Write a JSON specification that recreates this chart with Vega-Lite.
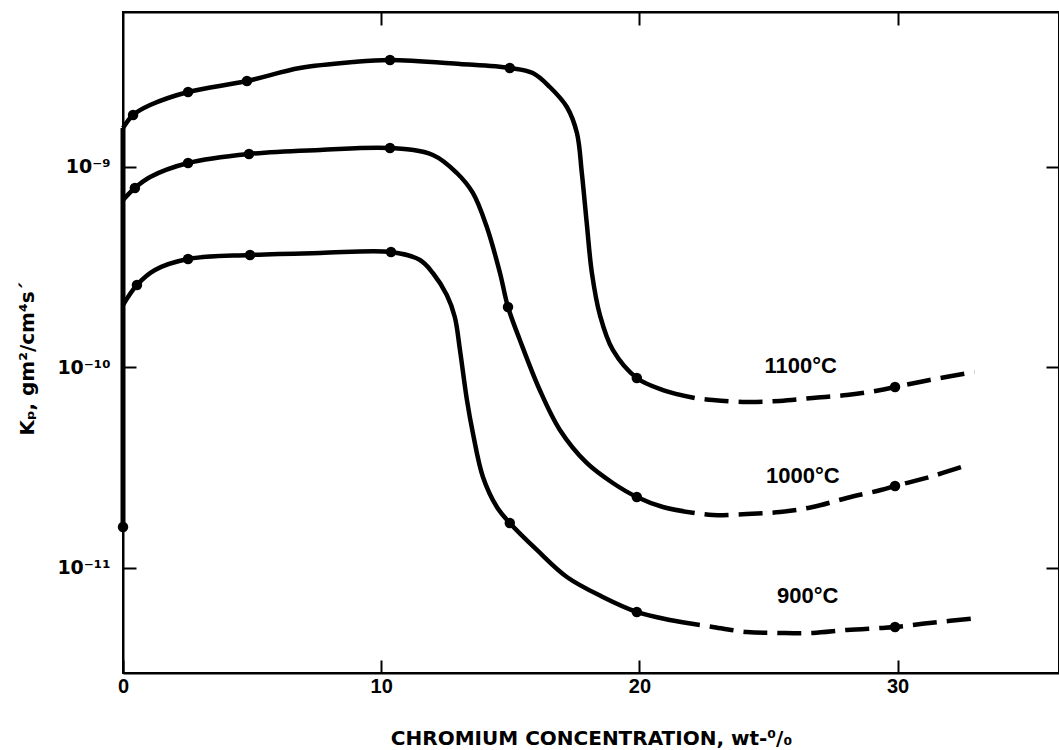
{
  "$schema": "https://vega.github.io/schema/vega-lite/v6.json",
  "width": 936,
  "height": 661,
  "autosize": {"type": "none"},
  "padding": {"left": 123, "top": 12, "right": 0, "bottom": 77},
  "background": "white",
  "config": {
    "view": {"stroke": "black", "strokeWidth": 2},
    "font": "Liberation Sans",
    "axis": {
      "grid": false,
      "domainColor": "black",
      "domainWidth": 2,
      "tickColor": "black",
      "tickWidth": 2,
      "labelColor": "black",
      "titleColor": "black",
      "labelFont": "Liberation Sans",
      "labelFontWeight": "bold",
      "labelFontSize": 20,
      "titleFont": "DejaVu Sans",
      "titleFontWeight": "bold"
    }
  },
  "datasets": {
    "curves": [
      {"T": "1100", "s": "solid", "x": 0, "k": 1.565e-9, "m": 0},
      {"T": "1100", "s": "solid", "x": 0.39, "k": 1.817e-9, "m": 1},
      {"T": "1100", "s": "solid", "x": 1.05, "k": 2.037e-9, "m": 0},
      {"T": "1100", "s": "solid", "x": 2.52, "k": 2.366e-9, "m": 1},
      {"T": "1100", "s": "solid", "x": 4.8, "k": 2.685e-9, "m": 1},
      {"T": "1100", "s": "solid", "x": 6.85, "k": 3.117e-9, "m": 0},
      {"T": "1100", "s": "solid", "x": 8.9, "k": 3.34e-9, "m": 0},
      {"T": "1100", "s": "solid", "x": 10.34, "k": 3.418e-9, "m": 1},
      {"T": "1100", "s": "solid", "x": 13.05, "k": 3.264e-9, "m": 0},
      {"T": "1100", "s": "solid", "x": 14.98, "k": 3.117e-9, "m": 1},
      {"T": "1100", "s": "solid", "x": 15.87, "k": 2.943e-9, "m": 0},
      {"T": "1100", "s": "solid", "x": 16.53, "k": 2.506e-9, "m": 0},
      {"T": "1100", "s": "solid", "x": 17.19, "k": 1.992e-9, "m": 0},
      {"T": "1100", "s": "solid", "x": 17.58, "k": 1.478e-9, "m": 0},
      {"T": "1100", "s": "solid", "x": 17.77, "k": 9.33e-10, "m": 0},
      {"T": "1100", "s": "solid", "x": 17.96, "k": 5.256e-10, "m": 0},
      {"T": "1100", "s": "solid", "x": 18.16, "k": 2.96e-10, "m": 0},
      {"T": "1100", "s": "solid", "x": 18.47, "k": 1.827e-10, "m": 0},
      {"T": "1100", "s": "solid", "x": 18.97, "k": 1.223e-10, "m": 0},
      {"T": "1100", "s": "solid", "x": 19.9, "k": 8.86e-11, "m": 1},
      {"T": "1100", "s": "solid", "x": 20.91, "k": 7.72e-11, "m": 0},
      {"T": "1100", "s": "solid", "x": 22.14, "k": 7.05e-11, "m": 0},
      {"T": "1100", "s": "dashed", "x": 22.14, "k": 7.05e-11, "m": 0},
      {"T": "1100", "s": "dashed", "x": 22.84, "k": 6.885e-11, "m": 0},
      {"T": "1100", "s": "dashed", "x": 24.16, "k": 6.73e-11, "m": 0},
      {"T": "1100", "s": "dashed", "x": 25.44, "k": 6.81e-11, "m": 0},
      {"T": "1100", "s": "dashed", "x": 26.71, "k": 7.05e-11, "m": 0},
      {"T": "1100", "s": "dashed", "x": 28.03, "k": 7.29e-11, "m": 0},
      {"T": "1100", "s": "dashed", "x": 29.35, "k": 7.72e-11, "m": 0},
      {"T": "1100", "s": "dashed", "x": 29.9, "k": 7.99e-11, "m": 1},
      {"T": "1100", "s": "dashed", "x": 31.24, "k": 8.66e-11, "m": 0},
      {"T": "1100", "s": "dashed", "x": 32.98, "k": 9.5e-11, "m": 0},

      {"T": "1000", "s": "solid", "x": 0, "k": 6.846e-10, "m": 0},
      {"T": "1000", "s": "solid", "x": 0.46, "k": 7.86e-10, "m": 1},
      {"T": "1000", "s": "solid", "x": 1.05, "k": 8.916e-10, "m": 0},
      {"T": "1000", "s": "solid", "x": 2.52, "k": 1.047e-9, "m": 1},
      {"T": "1000", "s": "solid", "x": 4.88, "k": 1.161e-9, "m": 1},
      {"T": "1000", "s": "solid", "x": 7.63, "k": 1.216e-9, "m": 0},
      {"T": "1000", "s": "solid", "x": 10.34, "k": 1.244e-9, "m": 1},
      {"T": "1000", "s": "solid", "x": 12.0, "k": 1.148e-9, "m": 0},
      {"T": "1000", "s": "solid", "x": 12.93, "k": 9.334e-10, "m": 0},
      {"T": "1000", "s": "solid", "x": 13.55, "k": 7.42e-10, "m": 0},
      {"T": "1000", "s": "solid", "x": 14.09, "k": 5.02e-10, "m": 0},
      {"T": "1000", "s": "solid", "x": 14.6, "k": 2.96e-10, "m": 0},
      {"T": "1000", "s": "solid", "x": 14.91, "k": 2.003e-10, "m": 1},
      {"T": "1000", "s": "solid", "x": 15.37, "k": 1.372e-10, "m": 0},
      {"T": "1000", "s": "solid", "x": 16.14, "k": 7.72e-11, "m": 0},
      {"T": "1000", "s": "solid", "x": 16.92, "k": 4.88e-11, "m": 0},
      {"T": "1000", "s": "solid", "x": 17.96, "k": 3.34e-11, "m": 0},
      {"T": "1000", "s": "solid", "x": 18.97, "k": 2.654e-11, "m": 0},
      {"T": "1000", "s": "solid", "x": 19.9, "k": 2.26e-11, "m": 1},
      {"T": "1000", "s": "solid", "x": 20.91, "k": 2.014e-11, "m": 0},
      {"T": "1000", "s": "solid", "x": 22.14, "k": 1.88e-11, "m": 0},
      {"T": "1000", "s": "dashed", "x": 22.14, "k": 1.88e-11, "m": 0},
      {"T": "1000", "s": "dashed", "x": 22.84, "k": 1.837e-11, "m": 0},
      {"T": "1000", "s": "dashed", "x": 24.16, "k": 1.858e-11, "m": 0},
      {"T": "1000", "s": "dashed", "x": 25.44, "k": 1.902e-11, "m": 0},
      {"T": "1000", "s": "dashed", "x": 26.71, "k": 2.014e-11, "m": 0},
      {"T": "1000", "s": "dashed", "x": 28.03, "k": 2.234e-11, "m": 0},
      {"T": "1000", "s": "dashed", "x": 29.35, "k": 2.449e-11, "m": 0},
      {"T": "1000", "s": "dashed", "x": 29.9, "k": 2.564e-11, "m": 1},
      {"T": "1000", "s": "dashed", "x": 31.24, "k": 2.844e-11, "m": 0},
      {"T": "1000", "s": "dashed", "x": 32.71, "k": 3.264e-11, "m": 0},

      {"T": "900", "s": "solid", "x": 0, "k": 2.05e-10, "m": 0},
      {"T": "900", "s": "solid", "x": 0.54, "k": 2.579e-10, "m": 1},
      {"T": "900", "s": "solid", "x": 1.24, "k": 3.064e-10, "m": 0},
      {"T": "900", "s": "solid", "x": 2.52, "k": 3.476e-10, "m": 1},
      {"T": "900", "s": "solid", "x": 4.92, "k": 3.64e-10, "m": 1},
      {"T": "900", "s": "solid", "x": 7.63, "k": 3.724e-10, "m": 0},
      {"T": "900", "s": "solid", "x": 10.38, "k": 3.768e-10, "m": 1},
      {"T": "900", "s": "solid", "x": 11.5, "k": 3.437e-10, "m": 0},
      {"T": "900", "s": "solid", "x": 12.0, "k": 2.96e-10, "m": 0},
      {"T": "900", "s": "solid", "x": 12.54, "k": 2.299e-10, "m": 0},
      {"T": "900", "s": "solid", "x": 12.85, "k": 1.786e-10, "m": 0},
      {"T": "900", "s": "solid", "x": 13.05, "k": 1.223e-10, "m": 0},
      {"T": "900", "s": "solid", "x": 13.32, "k": 6.885e-11, "m": 0},
      {"T": "900", "s": "solid", "x": 13.55, "k": 4.713e-11, "m": 0},
      {"T": "900", "s": "solid", "x": 13.94, "k": 2.844e-11, "m": 0},
      {"T": "900", "s": "solid", "x": 14.48, "k": 2.014e-11, "m": 0},
      {"T": "900", "s": "solid", "x": 14.98, "k": 1.677e-11, "m": 1},
      {"T": "900", "s": "solid", "x": 16.03, "k": 1.23e-11, "m": 0},
      {"T": "900", "s": "solid", "x": 17.19, "k": 9.02e-12, "m": 0},
      {"T": "900", "s": "solid", "x": 18.58, "k": 7.17e-12, "m": 0},
      {"T": "900", "s": "solid", "x": 19.9, "k": 6.034e-12, "m": 1},
      {"T": "900", "s": "solid", "x": 21.18, "k": 5.503e-12, "m": 0},
      {"T": "900", "s": "solid", "x": 22.34, "k": 5.196e-12, "m": 0},
      {"T": "900", "s": "dashed", "x": 22.34, "k": 5.196e-12, "m": 0},
      {"T": "900", "s": "dashed", "x": 22.84, "k": 5.077e-12, "m": 0},
      {"T": "900", "s": "dashed", "x": 24.16, "k": 4.795e-12, "m": 0},
      {"T": "900", "s": "dashed", "x": 25.44, "k": 4.74e-12, "m": 0},
      {"T": "900", "s": "dashed", "x": 26.71, "k": 4.74e-12, "m": 0},
      {"T": "900", "s": "dashed", "x": 28.03, "k": 4.907e-12, "m": 0},
      {"T": "900", "s": "dashed", "x": 29.35, "k": 5.02e-12, "m": 0},
      {"T": "900", "s": "dashed", "x": 29.9, "k": 5.077e-12, "m": 1},
      {"T": "900", "s": "dashed", "x": 31.24, "k": 5.316e-12, "m": 0},
      {"T": "900", "s": "dashed", "x": 33.1, "k": 5.63e-12, "m": 0},

      {"T": "Ni", "s": "vertical", "x": 0, "k": 1.601e-11, "m": 1},
      {"T": "Ni", "s": "vertical", "x": 0, "k": 1.565e-9, "m": 0}
    ],
    "labels": [
      {"text": "1100°C", "x": 26.25, "k": 9.39e-11},
      {"text": "1000°C", "x": 26.33, "k": 2.655e-11},
      {"text": "900°C", "x": 26.52, "k": 6.69e-12}
    ]
  },
  "layer": [
    {
      "data": {"name": "curves"},
      "transform": [{"filter": "datum.s == 'solid'"}],
      "mark": {"type": "line", "interpolate": "catmull-rom", "color": "black", "strokeWidth": 4.5},
      "encoding": {
        "x": {
          "field": "x", "type": "quantitative",
          "scale": {"domain": [0, 36.25], "nice": false, "zero": false},
          "axis": {
            "orient": "bottom",
            "values": [0, 10, 20, 30],
            "tickSize": -13,
            "labelPadding": 16,
            "labelFontSize": 20,
            "labelFlush": false,
            "title": "CHROMIUM CONCENTRATION, wt-⁰/₀",
            "titleFontSize": 20,
            "titleBaseline": "alphabetic",
            "titleY": 71
          }
        },
        "y": {
          "field": "k", "type": "quantitative",
          "scale": {"type": "log", "domain": [2.994e-12, 5.93e-9], "nice": false},
          "axis": {
            "orient": "left",
            "values": [1e-9, 1e-10, 1e-11],
            "tickSize": -13,
            "labelPadding": 26,
            "labelFont": "DejaVu Sans",
            "labelFontSize": 19,
            "labelExpr": "datum.value > 5e-10 ? '10⁻⁹' : (datum.value > 5e-11 ? '10⁻¹⁰' : '10⁻¹¹')",
            "title": "Kₚ, gm²/cm⁴s´",
            "titleFontSize": 20,
            "titleAngle": -90,
            "titleBaseline": "alphabetic",
            "titleX": -90,
            "titleY": 346,
            "titleAlign": "center"
          }
        },
        "detail": {"field": "T"}
      }
    },
    {
      "data": {"name": "curves"},
      "transform": [{"filter": "datum.s == 'dashed'"}],
      "mark": {"type": "line", "interpolate": "catmull-rom", "color": "black", "strokeWidth": 4.5, "strokeDash": [24, 10], "strokeDashOffset": 24},
      "encoding": {
        "x": {
          "field": "x", "type": "quantitative",
          "scale": {"domain": [0, 36.25], "nice": false, "zero": false},
          "axis": {"orient": "top", "values": [10, 20, 30], "tickSize": -13, "labels": false, "title": null}
        },
        "y": {
          "field": "k", "type": "quantitative",
          "scale": {"type": "log", "domain": [2.994e-12, 5.93e-9], "nice": false},
          "axis": {"orient": "right", "values": [1e-9, 1e-10, 1e-11], "tickSize": -13, "labels": false, "title": null}
        },
        "detail": {"field": "T"}
      }
    },
    {
      "data": {"name": "curves"},
      "transform": [{"filter": "datum.s == 'vertical'"}],
      "mark": {"type": "line", "interpolate": "linear", "color": "black", "strokeWidth": 5},
      "encoding": {
        "x": {"field": "x", "type": "quantitative", "axis": null},
        "y": {"field": "k", "type": "quantitative", "axis": null},
        "detail": {"field": "T"}
      }
    },
    {
      "data": {"name": "curves"},
      "transform": [{"filter": "datum.m == 1"}],
      "mark": {"type": "circle", "color": "black", "opacity": 1, "size": 110},
      "encoding": {
        "x": {"field": "x", "type": "quantitative", "axis": null},
        "y": {"field": "k", "type": "quantitative", "axis": null}
      }
    },
    {
      "data": {"name": "labels"},
      "mark": {"type": "text", "font": "Liberation Sans", "fontWeight": "bold", "fontSize": 22, "align": "center", "baseline": "alphabetic", "color": "black"},
      "encoding": {
        "x": {"field": "x", "type": "quantitative", "axis": null},
        "y": {"field": "k", "type": "quantitative", "axis": null},
        "text": {"field": "text"}
      }
    }
  ],
  "resolve": {"axis": {"x": "independent", "y": "independent"}}
}
